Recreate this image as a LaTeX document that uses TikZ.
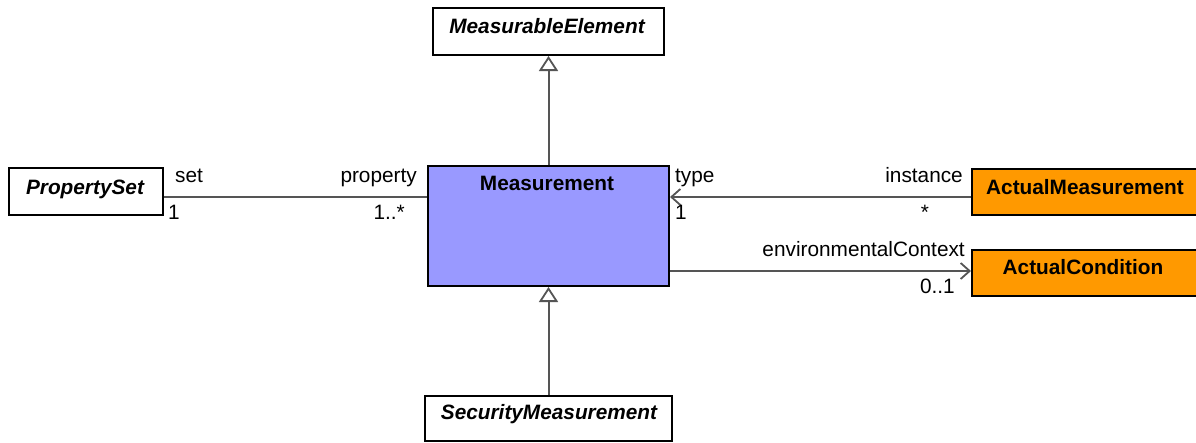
\documentclass[tikz,border=0pt]{standalone}
\usepackage{fontspec}
\setmainfont{Liberation Sans}
\usetikzlibrary{arrows.meta}
\definecolor{mblue}{HTML}{9999FF}
\definecolor{morange}{HTML}{FF9900}
\definecolor{lgray}{HTML}{555555}
\begin{document}
\begin{tikzpicture}[x=1pt,y=-1pt,
  box/.style={draw=black, line width=2pt, fill=white, inner sep=0pt, anchor=north west},
  cname/.style={font=\fontsize{20.8}{25}\selectfont\bfseries, anchor=base, inner sep=0pt},
  aname/.style={font=\fontsize{20.8}{25}\selectfont\bfseries\itshape, anchor=base, inner sep=0pt},
  role/.style={font=\fontsize{20.8}{25}\selectfont, inner sep=0pt},
  conn/.style={draw=lgray, line width=2pt},
  gen/.style={conn, -{Triangle[open, width=19pt, length=15pt, line width=1.8pt, fill=white]}},
  nav/.style={conn, -{Straight Barb[length=9pt, width=16pt, line width=1.8pt]}}
]
\useasboundingbox (0,0) rectangle (1196,442);
\fill[white] (0,0) rectangle (1196,442);

% boxes
\node[box, minimum width=231pt, minimum height=47pt] (me) at (432,7) {};
\node[box, minimum width=154pt, minimum height=47pt] (ps) at (8,167) {};
\node[box, fill=mblue, minimum width=241pt, minimum height=120pt] (m) at (427,165) {};
\node[box, fill=morange, minimum width=230pt, minimum height=46pt] (am) at (971,168) {};
\node[box, fill=morange, minimum width=230pt, minimum height=46pt] (ac) at (971,249) {};
\node[box, minimum width=247pt, minimum height=45pt] (sm) at (424,395) {};

% class names
\node[aname] (metxt) at (547,33) {MeasurableElement};
\node[aname] (pstxt) at (85,194) {PropertySet};
\node[cname] (mtxt) at (547,190) {Measurement};
\node[cname] (amtxt) at (1085,194) {ActualMeasurement};
\node[cname] (actxt) at (1083,274) {ActualCondition};
\node[aname] (smtxt) at (549,419) {SecurityMeasurement};

% generalizations
\draw[gen] (m.north) -- (m.north |- me.south);
\draw[gen] (m.south |- sm.north) -- (m.south);

% associations
\coordinate (psA) at ([yshift=-5pt]ps.east);
\coordinate (mA) at (psA -| m.west);
\draw[conn] (psA) -- (mA);
\coordinate (amA) at ([yshift=-5pt]am.west);
\coordinate (mB) at (amA -| m.east);
\draw[nav] (amA) -- (mB);
\coordinate (acA) at ([yshift=2pt]ac.west);
\coordinate (mC) at (acA -| m.east);
\draw[nav] (mC) -- (acA);

% role labels
\node[role, anchor=base west] (l1) at (175,182) {set};
\node[role, anchor=base west] (l2) at (168,219) {1};
\node[role, anchor=base east] (l3) at (417,182) {property};
\node[role, anchor=base east] (l4) at (405,219) {1..*};
\node[role, anchor=base west] (l5) at (675,182) {type};
\node[role, anchor=base west] (l6) at (675,219) {1};
\node[role, anchor=base east] (l7) at (963,182) {instance};
\node[role, anchor=base] (l8) at (925,219) {*};
\node[role, anchor=base east] (l9) at (965,256) {environmentalContext};
\node[role, anchor=base east] (l10) at (955,293) {0..1};
\end{tikzpicture}
\end{document}
